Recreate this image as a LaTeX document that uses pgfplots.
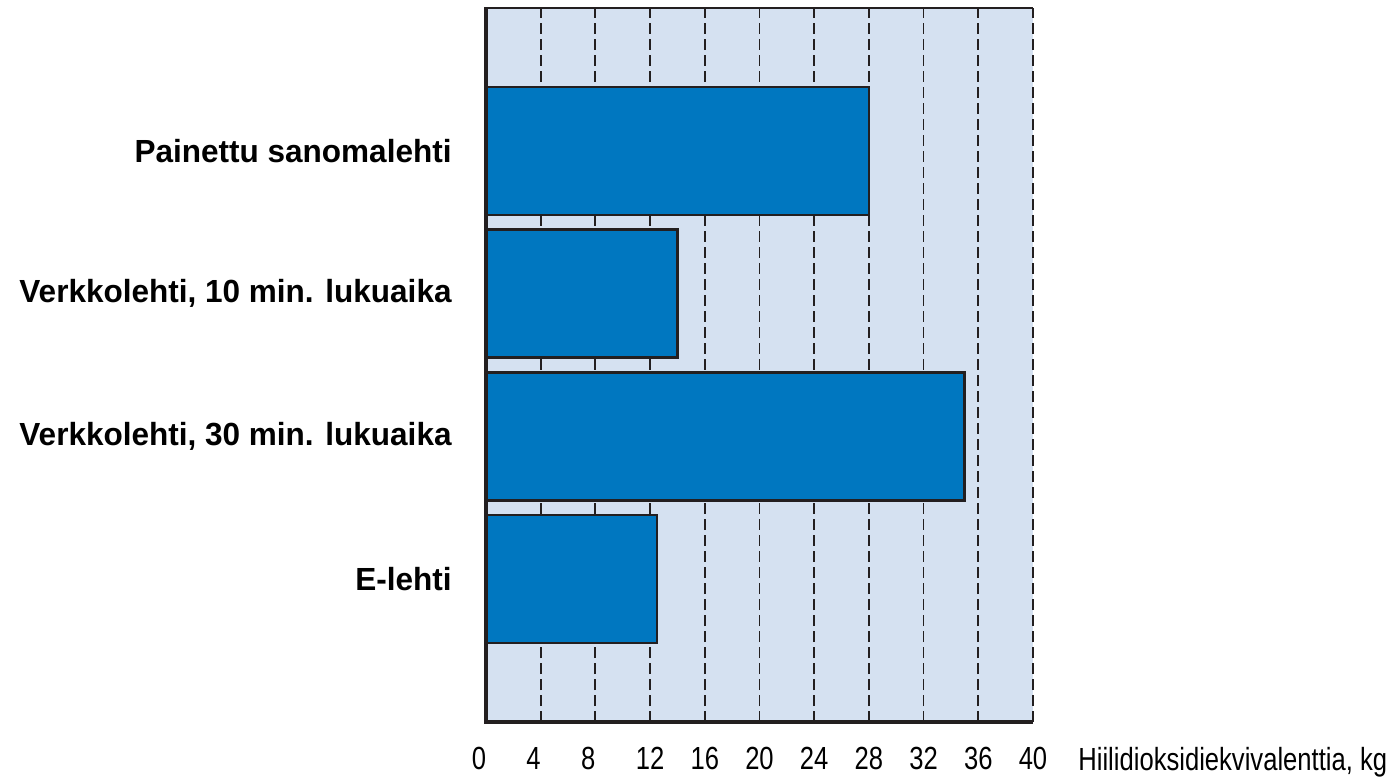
\documentclass[border=0pt]{standalone}
\usepackage{fontspec}
\setmainfont{Liberation Sans}
\newfontfamily\narrow{Liberation Sans}[FakeStretch=0.8]
\newfontfamily\boldlab{Liberation Sans Bold}[FakeStretch=0.985]
\usepackage{pgfplots}
\pgfplotsset{compat=1.18}
\definecolor{barblue}{HTML}{0077C0}
\definecolor{bgblue}{HTML}{D5E1F1}
\definecolor{dark}{HTML}{231F20}
\begin{document}
\begin{tikzpicture}
\path[use as bounding box] (-243pt,-27.5pt) rectangle (455.5pt,361pt);
\begin{axis}[
  at={(0,0)}, anchor=south west,
  width=273.5pt, height=357pt, scale only axis,
  xmin=0, xmax=40, ymin=0, ymax=5,
  xbar, bar width=64pt,
  axis line style={draw=none},
  axis background/.style={fill=bgblue},
  xtick={0,4,...,40},
  xticklabels={0\phantom{0},4\phantom{0},8\phantom{0},12,16,20,24,28,32,36,40},
  xticklabel style={font=\narrow\fontsize{16}{18}\selectfont, anchor=north, inner sep=0pt, yshift=-12.5pt},
  ytick={1,2,3,4},
  yticklabels={E-lehti, {Verkkolehti, 30 min. lukuaika}, {Verkkolehti, 10 min. lukuaika}, Painettu sanomalehti},
  yticklabel style={font=\boldlab\fontsize{16}{18}\selectfont, anchor=east, inner sep=0pt, xshift=-17pt},
  major tick length=0pt,
  xmajorgrids,
  major grid style={dark, line width=0.9pt, dash pattern=on 5.5pt off 2.5pt},
  clip=false,
]
\addplot[fill=barblue, draw=dark, line width=1.2pt] coordinates {(12.5,1) (35,2) (14,3) (28,4)};
\draw[dark, line width=1.75pt] (rel axis cs:0,0) -- (rel axis cs:0,1);
\draw[dark, line width=1.75pt] ([xshift=-0.875pt]rel axis cs:0,0) -- (rel axis cs:1,0);
\draw[dark, line width=1.25pt] ([xshift=-0.875pt]rel axis cs:0,1) -- (rel axis cs:1,1);
\node[anchor=north west, inner sep=0pt, font=\narrow\fontsize{16}{18}\selectfont] at ([xshift=22.5pt,yshift=-12.5pt]rel axis cs:1,0) {Hiilidioksidiekvivalenttia, kg};
\end{axis}
\end{tikzpicture}
\end{document}
